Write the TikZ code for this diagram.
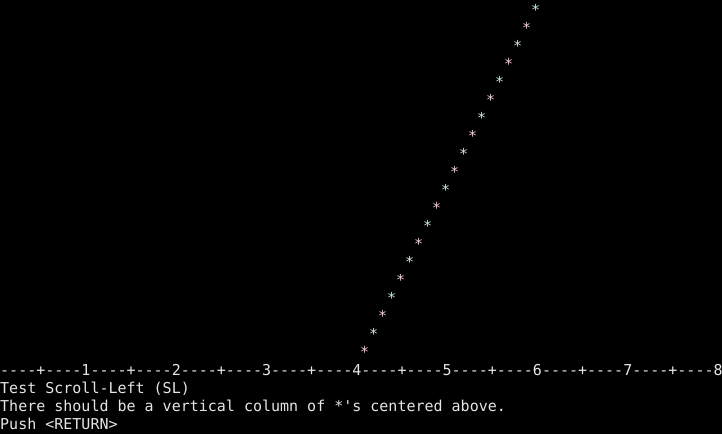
\documentclass[tikz,border=0pt]{standalone}
\usepackage{fontspec}
\setmonofont{DejaVu Sans Mono}
\usetikzlibrary{positioning}
\definecolor{termfg}{RGB}{229,229,229}
\definecolor{starpink}{RGB}{242,206,226}
\definecolor{stargreen}{RGB}{204,238,214}
\tikzset{
        termnode/.style={inner sep=0pt, anchor=base west, font=\ttfamily\fontsize{15}{18}\selectfont},
        % Plain terminal text
        term_text/.style={termnode, text=termfg},
        % Asterisks on odd rows
        star_pink/.style={termnode, text=starpink},
        % Asterisks on even rows
        star_green/.style={termnode, text=stargreen}
}
\begin{document}
\begin{tikzpicture}[x=1pt, y=-1pt]
            \fill[black] (0,0) rectangle (722,434);
            \useasboundingbox (0,0) rectangle (722,434);
            % column of asterisks, one column further left on each row
            \foreach \r in {0,...,19} {
                \pgfmathtruncatemacro{\odd}{mod(\r,2)}
                \ifnum\odd=1
                    \node[star_pink] (star\r) at ({9*(59-\r)}, {18*\r+15}) {*};
                \else
                    \node[star_green] (star\r) at ({9*(59-\r)}, {18*\r+15}) {*};
                \fi
            }
            \node[term_text] (ruler) at (0, 375) {----+----1----+----2----+----3----+----4----+----5----+----6----+----7----+----8};
            \node[term_text] (title) at (0, 393) {Test Scroll-Left (SL)};
            \node[term_text] (hint) at (0, 411) {There should be a vertical column of *'s centered above.};
            \node[term_text] (push) at (0, 429) {Push <RETURN>};
        \end{tikzpicture}
\end{document}
